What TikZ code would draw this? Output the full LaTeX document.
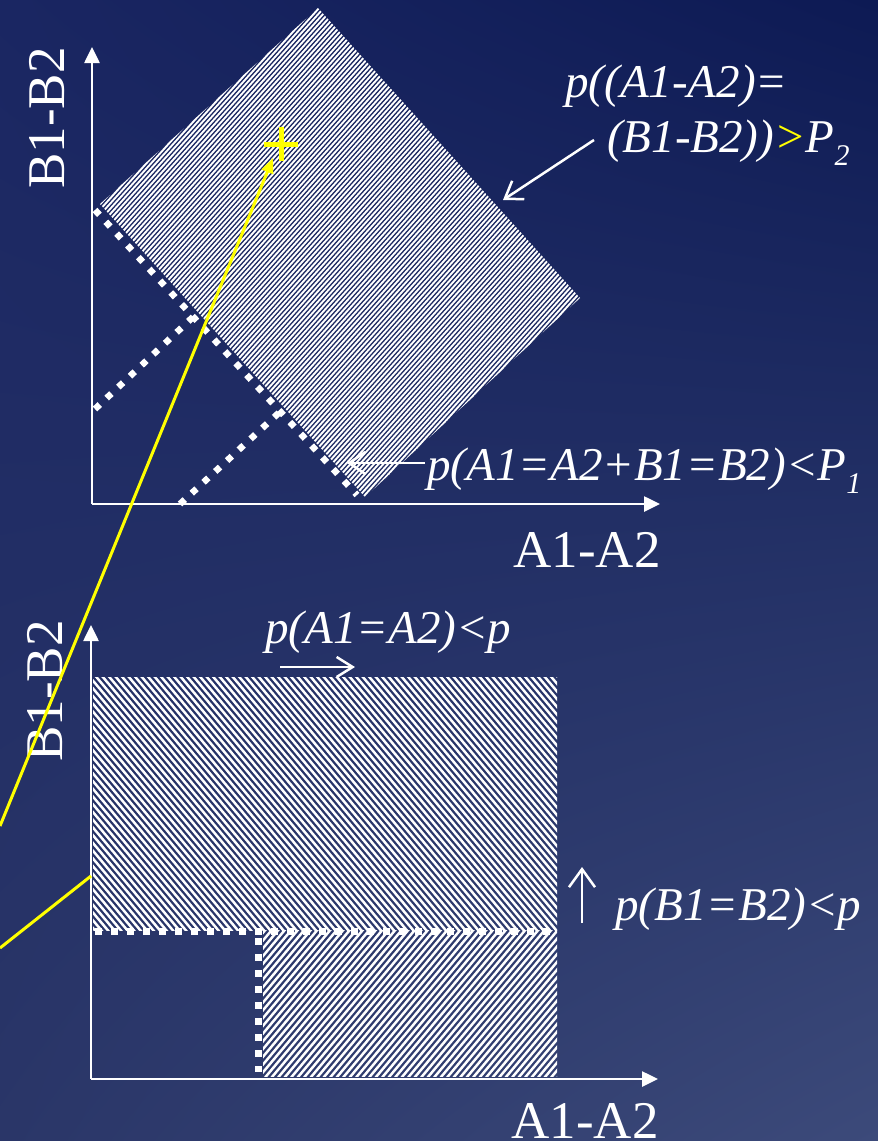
\documentclass[tikz,border=0pt]{standalone}
\usepackage{fontspec}
\setmainfont{Liberation Serif}
\usetikzlibrary{arrows.meta,shadings}
\definecolor{bgUL}{RGB}{26,38,98}
\definecolor{bgUR}{RGB}{13,26,84}
\definecolor{bgLL}{RGB}{42,54,104}
\definecolor{bgLR}{RGB}{60,74,122}
\definecolor{ylw}{RGB}{255,255,0}
\newcommand\mysub[1]{\raisebox{-0.28em}{\fontsize{30}{30}\selectfont #1}}
\begin{document}
\begin{tikzpicture}[x=1pt,y=-1pt,
  axis/.style={draw=white, line width=2.6pt, -{Triangle[length=16pt,width=15pt]}},
  dotline/.style={draw=white, line width=7pt, dash pattern=on 7pt off 9pt},
  ddotline/.style={draw=white, line width=6.5pt, dash pattern=on 6.5pt off 9.5pt},
  hatchA/.style={draw=white, line width=1.9pt},
  hatchB/.style={draw=white, line width=2.5pt},
  ylwline/.style={draw=ylw, line width=3pt},
  lblarrow/.style={draw=white, line width=2.5pt, -{Straight Barb[length=16pt,width=22pt]}},
  axlabel/.style={text=white, font=\fontsize{53}{60}\selectfont, inner sep=0pt},
  itlabel/.style={text=white, font=\fontsize{47}{56}\selectfont\itshape, inner sep=0pt, anchor=base west},
]
\useasboundingbox (0,0) rectangle (878,1141);
\shade[upper left=bgUL, upper right=bgUR, lower left=bgLL, lower right=bgLR] (0,0) rectangle (878,1141);

% ---------- top plot ----------
\coordinate (T) at (318,8);
\coordinate (R) at (580,298);
\coordinate (B) at (365,497);
\coordinate (L) at (100,204);
\begin{scope}
  \clip (T) -- (R) -- (B) -- (L) -- cycle;
  \foreach \i in {0,...,260} {\draw[hatchA] ({-560+4.7*\i},520) -- ++(468,-520);}
\end{scope}

\coordinate (D1a) at (95,210);  \coordinate (D1b) at (357,495);
\coordinate (D2a) at (95,409);  \coordinate (D2b) at (193,317);
\coordinate (D3a) at (180,504); \coordinate (D3b) at (283,409);
\draw[ddotline] (D1a) -- (D1b);
\draw[ddotline] (D2a) -- (D2b);
\draw[ddotline] (D3a) -- (D3b);

\coordinate (O1) at (92,504);
\coordinate (Y1) at (92,47);
\coordinate (X1) at (660,504);
\draw[axis] (O1) -- (Y1);
\draw[axis] (O1) -- (X1);

\node[axlabel, anchor=base] (xl1) at (587,567) {A1-A2};
\node[axlabel, rotate=90, anchor=base] (yl1) at (64,118) {B1-B2};

\node[itlabel] (lP2a) at (565,97) {p((A1-A2)=};
\node[itlabel] (lP2b) at (607,152) {(B1-B2))\textcolor{ylw}{>}P\mysub{2}};
\coordinate (sP2) at (594,140);
\coordinate (eP2) at (503,200);
\draw[lblarrow] (sP2) -- (eP2);

\node[itlabel] (lP1) at (427,480) {p(A1=A2+B1=B2)<P\mysub{1}};
\coordinate (sP1) at (425,463);
\coordinate (eP1) at (347,463);
\draw[lblarrow] (sP1) -- (eP1);

% ---------- bottom plot ----------
\begin{scope}
  \clip (93,677) rectangle (557,930);
  \foreach \i in {0,...,115} {\draw[hatchB] ({-150+6.5*\i},670) -- ++(227,270);}
\end{scope}
\begin{scope}
  \clip (263,930) rectangle (557,1076);
  \foreach \i in {0,...,70} {\draw[hatchB] ({120+6.5*\i},1080) -- ++(130,-155);}
\end{scope}

\coordinate (H1) at (95,931);  \coordinate (H2) at (557,931);
\coordinate (V1) at (258,938); \coordinate (V2) at (258,1072);
\draw[dotline] (H1) -- (H2);
\draw[dotline] (V1) -- (V2);

\coordinate (O2) at (91,1079);
\coordinate (Y2) at (91,625);
\coordinate (X2) at (658,1079);
\draw[axis] (O2) -- (Y2);
\draw[axis] (O2) -- (X2);

\node[axlabel, anchor=base] (xl2) at (585,1138) {A1-A2};
\node[axlabel, rotate=90, anchor=base] (yl2) at (62,691) {B1-B2};

\node[itlabel] (lA) at (265,643) {p(A1=A2)<p};
\coordinate (sA) at (280,667);
\coordinate (eA) at (355,667);
\draw[lblarrow, -{Straight Barb[length=16pt,width=20pt]}] (sA) -- (eA);

\node[itlabel] (lB) at (615,920) {p(B1=B2)<p};
\coordinate (sB) at (582,923);
\coordinate (eB) at (582,867);
\draw[lblarrow, -{Straight Barb[length=18pt,width=26pt]}] (sB) -- (eB);

% ---------- yellow ----------
\coordinate (Ya) at (0,826);
\coordinate (Yb) at (273,158);
\coordinate (Yc) at (0,948);
\coordinate (Yd) at (91,876);
\draw[ylwline, -{Triangle[length=15pt,width=12pt]}] (Ya) -- (Yb);
\draw[ylwline] (Yc) -- (Yd);
\coordinate (Pc) at (281,144);
\draw[draw=ylw, line width=5pt] ([xshift=-17pt]Pc) -- ([xshift=17pt]Pc)
  ([yshift=17pt]Pc) -- ([yshift=-17pt]Pc);
\end{tikzpicture}
\end{document}
